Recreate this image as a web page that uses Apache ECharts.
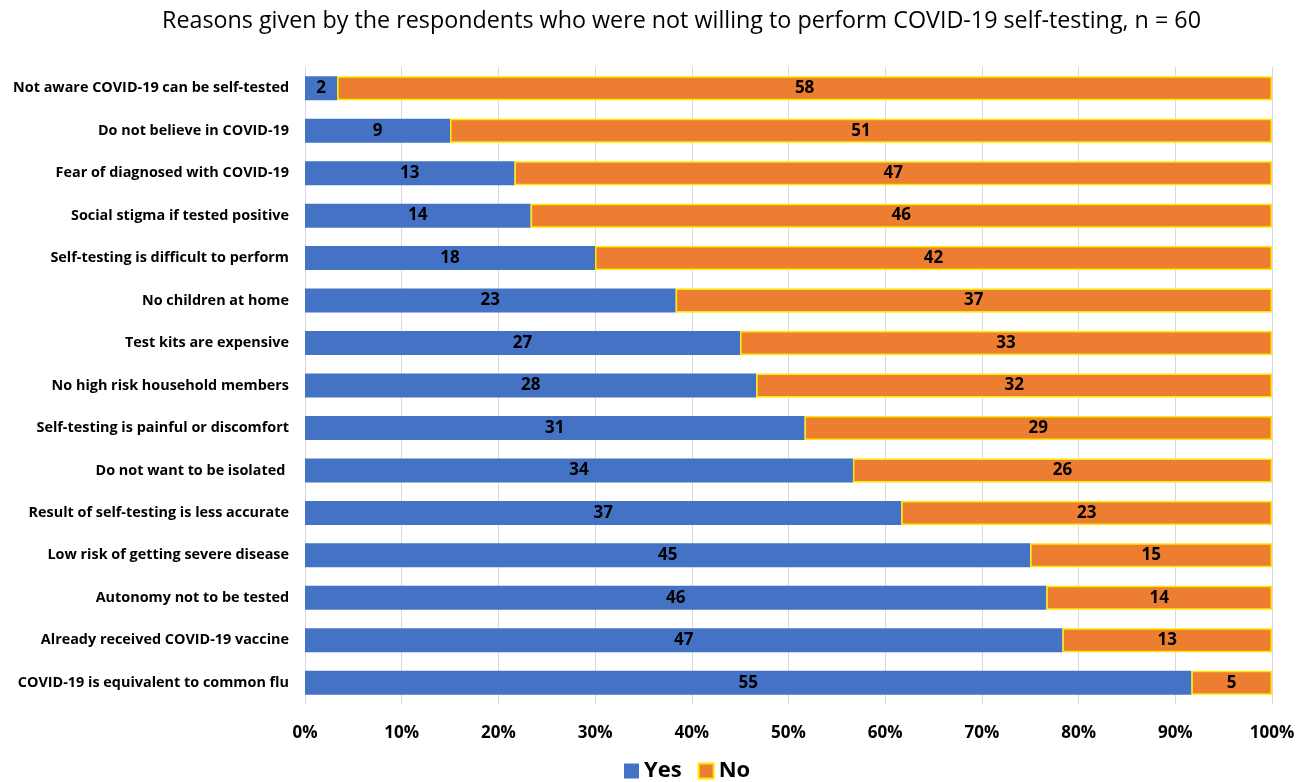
<!DOCTYPE html>
<html><head><meta charset="utf-8">
<script src="https://cdn.jsdelivr.net/npm/echarts@6/dist/echarts.min.js"></script>
<style>html,body{margin:0;padding:0;background:#fff}#c{width:1310px;height:782px}</style>
</head><body><div id="c"></div>
<script>
const categories = [
  "Not aware COVID-19 can be self-tested",
  "Do not believe in COVID-19",
  "Fear of diagnosed with COVID-19",
  "Social stigma if tested positive",
  "Self-testing is difficult to perform",
  "No children at home",
  "Test kits are expensive",
  "No high risk household members",
  "Self-testing is painful or discomfort",
  "Do not want to be isolated ",
  "Result of self-testing is less accurate",
  "Low risk of getting severe disease",
  "Autonomy not to be tested",
  "Already received COVID-19 vaccine",
  "COVID-19 is equivalent to common flu"
];
const yesValues = [2, 9, 13, 14, 18, 23, 27, 28, 31, 34, 37, 45, 46, 47, 55];
const noValues  = [58, 51, 47, 46, 42, 37, 33, 32, 29, 26, 23, 15, 14, 13, 5];
const tickLabels = ["0%","10%","20%","30%","40%","50%","60%","70%","80%","90%","100%"];

const FONT = "Open Sans";
const pct = (v, i) => ({ value: v / (yesValues[i] + noValues[i]) * 100, raw: v });
const yesData = yesValues.map(pct);
const noData = noValues.map(pct);

const chart = echarts.init(document.getElementById('c'));
chart.setOption({
  animation: false,
  textStyle: { fontFamily: FONT },
  title: {
    text: "Reasons given by the respondents who were not willing to perform COVID-19 self-testing, n = 60",
    left: 157, top: 5,
    textStyle: { fontFamily: FONT, fontSize: 23.3, fontWeight: 'normal', color: '#000' }
  },
  legend: {
    bottom: -5, left: 619, itemWidth: 15, itemHeight: 15, itemGap: 16,
    icon: 'rect',
    textStyle: { fontFamily: FONT, fontSize: 22, fontWeight: 'bold', color: '#000' },
    data: ['Yes', 'No']
  },
  grid: { left: 305, right: 38, top: 67, height: 637, containLabel: false },
  xAxis: {
    type: 'value', min: 0, max: 100, interval: 10,
    axisLabel: {
      formatter: (v) => tickLabels[Math.round(v / 10)],
      fontFamily: FONT, fontSize: 17, fontWeight: 'bold', color: '#000', margin: 21
    },
    axisLine: { show: false }, axisTick: { show: false },
    splitLine: { show: true, lineStyle: { color: '#d9d9d9', width: 1 } }
  },
  yAxis: {
    type: 'category', data: categories, inverse: true,
    axisLabel: { fontFamily: FONT, fontSize: 14.4, fontWeight: 'bold', color: '#000', margin: 16 },
    axisLine: { show: false }, axisTick: { show: false }
  },
  series: [
    {
      name: 'Yes', type: 'bar', stack: 'a', data: yesData, barWidth: 24,
      itemStyle: { color: '#4472C4' },
      label: { show: true, position: 'inside', formatter: p => p.data.raw,
        fontFamily: FONT, fontSize: 17, fontWeight: 'bold', color: '#000' }
    },
    {
      name: 'No', type: 'bar', stack: 'a', data: noData, barWidth: 24,
      itemStyle: { color: '#ED7D31', borderColor: '#FFE800', borderWidth: 1.5 },
      label: { show: true, position: 'inside', formatter: p => p.data.raw,
        fontFamily: FONT, fontSize: 17, fontWeight: 'bold', color: '#000' }
    }
  ]
});
</script></body></html>
